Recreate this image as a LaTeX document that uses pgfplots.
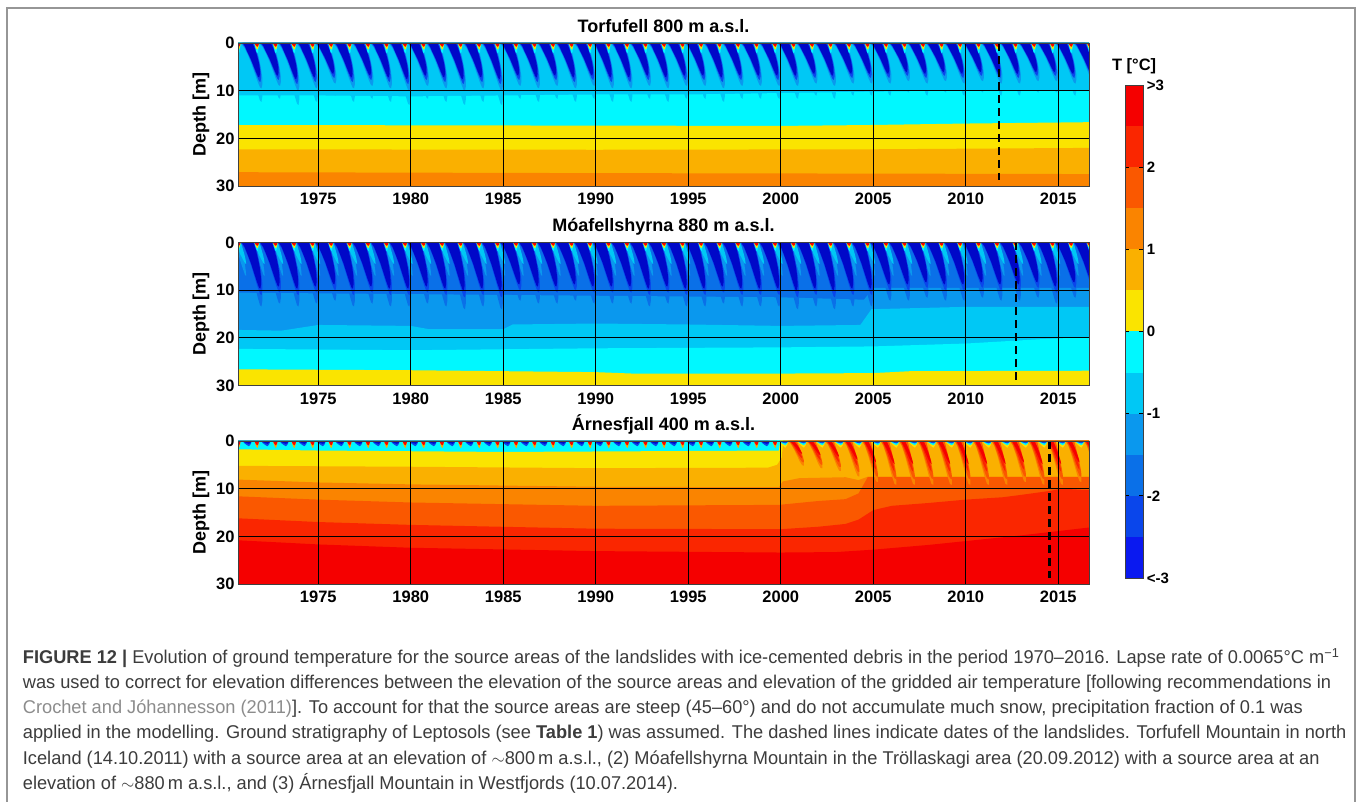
\documentclass[border=0pt]{standalone}
\usepackage{fontspec}
\setmainfont{Liberation Sans}
\usepackage{graphicx}
\usepackage{pgfplots}
\pgfplotsset{compat=1.18}

\definecolor{L1}{RGB}{10,25,240}
\definecolor{L2}{RGB}{10,70,235}
\definecolor{L3}{RGB}{10,112,232}
\definecolor{L4}{RGB}{10,152,238}
\definecolor{L5}{RGB}{0,200,245}
\definecolor{L6}{RGB}{0,248,255}
\definecolor{L7}{RGB}{250,228,0}
\definecolor{L8}{RGB}{250,176,0}
\definecolor{L9}{RGB}{250,132,0}
\definecolor{L10}{RGB}{250,88,0}
\definecolor{L11}{RGB}{250,38,0}
\definecolor{L12}{RGB}{245,0,0}
\definecolor{CORE}{RGB}{0,8,200}
\definecolor{framec}{RGB}{150,150,150}
\definecolor{captxt}{RGB}{60,60,60}
\definecolor{capgray}{RGB}{140,140,140}

% shape templates: (years from 1 Jan of the year / fraction of depth)
\def\shO{-0.20/0,0.55/0,0.68/0.15,0.80/0.35,0.90/0.55,0.97/0.75,0.98/0.9,0.93/1.0,0.85/0.98,0.72/0.85,0.55/0.65,0.38/0.45,0.18/0.25,0.0/0.1,-0.20/0}
\def\shM{-0.14/0,0.49/0,0.62/0.15,0.74/0.35,0.84/0.55,0.90/0.75,0.91/0.9,0.87/1.0,0.80/0.98,0.68/0.85,0.52/0.65,0.36/0.45,0.17/0.25,0.02/0.1,-0.14/0}
\def\shC{-0.08/0,0.43/0,0.56/0.15,0.68/0.35,0.78/0.55,0.84/0.75,0.85/0.9,0.81/1.0,0.75/0.98,0.64/0.85,0.49/0.65,0.34/0.45,0.16/0.25,0.04/0.1,-0.08/0}
\def\shS{0.55/0,0.80/0,0.78/0.4,0.74/0.85,0.70/1.0,0.65/0.8,0.59/0.4,0.55/0}
\def\shT{0.55/0,0.82/0,0.92/0.3,1.02/0.6,1.08/0.85,1.10/1.0,1.04/0.97,0.92/0.78,0.78/0.55,0.65/0.28,0.55/0}
\def\shF{-0.10/0,0.40/0,0.35/0.6,0.25/1.0,0.15/0.8,0.0/0.4,-0.10/0}
\def\shWo{0.40/0,0.85/0,0.98/0.25,1.10/0.5,1.20/0.75,1.25/0.92,1.24/1.0,1.15/0.98,1.02/0.82,0.88/0.6,0.72/0.35,0.55/0.12,0.40/0}
\def\shWi{0.48/0,0.72/0,0.86/0.25,0.98/0.5,1.08/0.75,1.14/0.92,1.15/1.0,1.08/0.95,0.96/0.78,0.84/0.55,0.70/0.3,0.56/0.1,0.48/0}

% year / depth of each seasonal wave
\def\yrsAll{1970/1,1971/1,1972/1,1973/1,1974/1,1975/1,1976/1,1977/1,1978/1,1979/1,1980/1,1981/1,1982/1,1983/1,1984/1,1985/1,1986/1,1987/1,1988/1,1989/1,1990/1,1991/1,1992/1,1993/1,1994/1,1995/1,1996/1,1997/1,1998/1,1999/1,2000/1,2001/1,2002/1,2003/1,2004/1,2005/1,2006/1,2007/1,2008/1,2009/1,2010/1,2011/1,2012/1,2013/1,2014/1,2015/1,2016/1}
\def\yrsEarly{1970/1,1971/1,1972/1,1973/1,1974/1,1975/1,1976/1,1977/1,1978/1,1979/1,1980/1,1981/1,1982/1,1983/1,1984/1,1985/1,1986/1,1987/1,1988/1,1989/1,1990/1,1991/1,1992/1,1993/1,1994/1,1995/1,1996/1,1997/1,1998/1,1999/1}
\def\yrsLate{2000/1,2001/1,2002/1,2003/1,2004/1,2005/1,2006/1,2007/1,2008/1,2009/1,2010/1,2011/1,2012/1,2013/1,2014/1,2015/1,2016/1}
\def\listA{1971/9.5,1972/9,1973/10,1974/9.5,1975/8.5,1976/9.5,1977/9,1978/9.5,1979/10,1980/9,1981/9.5,1982/10,1983/9.5,1984/10,1985/9,1986/9.5,1987/9,1988/9.5,1989/9,1990/9.5,1991/9.5,1992/9,1993/9.5,1994/9,1995/9,1996/9.5,1997/9,1998/9,1999/9,2000/9,2001/8.5,2002/9,2003/8.5,2004/8.5,2005/8.5,2006/8,2007/8.5,2008/8,2009/8.5,2010/8,2011/8.5,2012/8.5,2013/8,2014/8,2015/8.5,2016/8.5}
\def\listB{1971/11,1972/10.5,1973/11,1974/10.5,1975/10,1976/11,1977/10.5,1978/11,1979/11,1980/10.5,1981/11,1982/11.5,1983/11,1984/11.5,1985/10,1986/10.5,1987/10.5,1988/10,1989/10.5,1990/10.5,1991/10.5,1992/11,1993/10.5,1994/11,1995/11,1996/10.5,1997/11,1998/11,1999/11,2000/11.5,2001/11,2002/11.5,2003/11,2004/11,2005/10,2006/10,2007/9.5,2008/10,2009/10,2010/9.5,2011/10,2012/10,2013/9.5,2014/10.5,2015/9.5,2016/10}
\def\listW{2000/4.5,2001/5,2002/5.5,2003/6.5,2004/7.5,2005/8,2006/8,2007/8,2008/8,2009/8,2010/8,2011/8,2012/7.5,2013/8,2014/8,2015/7.5,2016/7.5}

\newcommand\buildpath[3]{%
  \gdef\pathcoords{}%
  \foreach \myyr/\mydd in #2{%
    \foreach \mypx/\mypy in #1{%
      \pgfmathsetmacro\myXv{\mypx+\myyr}%
      \pgfmathsetmacro\myYv{\mypy*\mydd*#3}%
      \xdef\pathcoords{\pathcoords(\myXv,\myYv)}%
    }%
  }%
}
\newcommand\mkpath[4]{\buildpath{#2}{#3}{#4}\global\let#1\pathcoords}

\mkpath\pAb{\shO}{\listA}{1.3}
\mkpath\pAo{\shO}{\listA}{1.0}
\mkpath\pAm{\shM}{\listA}{0.86}
\mkpath\pAc{\shC}{\listA}{0.76}
\mkpath\pAsa{\shS}{\yrsAll}{2.2}
\mkpath\pAsb{\shS}{\yrsAll}{1.4}
\mkpath\pAsc{\shS}{\yrsAll}{0.8}
\mkpath\pBb{\shO}{\listB}{1.22}
\mkpath\pBta{\shT}{\yrsAll}{7}
\mkpath\pBtb{\shT}{\yrsAll}{4.5}
\mkpath\pBo{\shO}{\listB}{1.0}
\mkpath\pBc{\shM}{\listB}{0.88}
\mkpath\pBsa{\shS}{\yrsAll}{1.8}
\mkpath\pBsb{\shS}{\yrsAll}{1.2}
\mkpath\pBsc{\shS}{\yrsAll}{0.7}
\mkpath\pCfa{\shF}{\yrsEarly}{1.1}
\mkpath\pCfb{\shF}{\yrsEarly}{0.6}
\mkpath\pCsa{\shS}{\yrsEarly}{1.5}
\mkpath\pCsb{\shS}{\yrsEarly}{0.9}
\mkpath\pCga{\shF}{\yrsLate}{1.4}
\mkpath\pCgb{\shF}{\yrsLate}{0.9}
\mkpath\pCgc{\shF}{\yrsLate}{0.5}
\mkpath\pCwa{\shWo}{\listW}{1.15}
\mkpath\pCwb{\shWo}{\listW}{1.0}
\mkpath\pCwc{\shWi}{\listW}{0.8}
\mkpath\pCwd{\shWi}{\listW}{0.6}

\newcommand\fillpath[2]{\edef\mytmpcmd{\noexpand\addplot[draw=none,fill=#2] coordinates {#1};}\mytmpcmd}

\pgfplotsset{panel/.style={
  anchor=south west, scale only axis, width=851pt, height=143pt,
  xmin=1970.66, xmax=2016.66, ymin=0, ymax=30, y dir=reverse,
  xtick={1975,1980,...,2015}, ytick={0,10,20,30},
  grid=major, major grid style={black, line width=0.7pt},
  major tick length=0pt,
  axis on top,
  axis line style={black!75, line width=0.8pt},
  ticklabel style={font=\bfseries\fontsize{16.5}{16.5}\selectfont},
  /pgf/number format/assume math mode=true,
  /pgf/number format/1000 sep={},
  xticklabel style={yshift=-3.5pt},
  ylabel={Depth [m]}, ylabel style={font=\bfseries\fontsize{18}{18}\selectfont},
  title style={font=\bfseries\fontsize{18}{18}\selectfont, at={(0.5,1)}, anchor=base, yshift=4.5pt},
}}

\newcommand\capfont{\fontsize{18.5}{22}\selectfont\color{captxt}}
\def\capsx{0.985}

\begin{document}%
\begin{tikzpicture}
\useasboundingbox (0pt,0pt) rectangle (1358pt,802pt);
\fill[white] (0pt,0pt) rectangle (1358pt,802pt);
\draw[framec, line width=1.5pt] (7pt,0pt) -- (7pt,794pt) -- (1355pt,794pt) -- (1355pt,0pt);

% ---------------- Torfufell ----------------
\begin{axis}[panel, at={(238pt,616pt)}, title={Torfufell 800 m a.s.l.}]
\addplot[draw=none,fill=L5] coordinates {(1970,-1)(2017,-1)(2017,31)(1970,31)};
\addplot[draw=none,fill=L6] coordinates {(1970,11.0)(1975,11.0)(1980,11.2)(1985,11.0)(1990,10.8)(1995,10.8)(2000,10.5)(2005,10.2)(2010,10.0)(2017,10.0)(2017,31)(1970,31)};
\fillpath{\pAb}{L5}
\addplot[draw=none,fill=L7] coordinates {(1970,17.2)(1985,17.3)(2000,17.4)(2005,17.2)(2010,16.9)(2017,16.6)(2017,31)(1970,31)};
\addplot[draw=none,fill=L8] coordinates {(1970,22.3)(1990,22.4)(2005,22.3)(2017,22.0)(2017,31)(1970,31)};
\addplot[draw=none,fill=L9] coordinates {(1970,27.1)(1990,27.3)(2005,27.4)(2017,27.5)(2017,31)(1970,31)};
\fillpath{\pAo}{L4}
\fillpath{\pAm}{L2}
\fillpath{\pAc}{CORE}
\fillpath{\pAsa}{L6}
\fillpath{\pAsb}{L7}
\fillpath{\pAsc}{L12}
\addplot[black, line width=2.3pt, dash pattern=on 8pt off 5pt] coordinates {(2011.79,0)(2011.79,28.8)};
\end{axis}

% ---------------- Moafellshyrna ----------------
\begin{axis}[panel, at={(238pt,416.5pt)}, title={Móafellshyrna 880 m a.s.l.}]
\addplot[draw=none,fill=L3] coordinates {(1970,-1)(2017,-1)(2017,31)(1970,31)};
\addplot[draw=none,fill=L4] coordinates {(1970,10.5)(1985,11.0)(2000,11.5)(2004.5,12.0)(2005,9.5)(2017,9.5)(2017,31)(1970,31)};
\fillpath{\pBb}{L3}
\addplot[draw=none,fill=L5] coordinates {(1970,18.3)(1973,18.5)(1975,17.3)(1980,17.5)(1981,18.2)(1985,18.2)(1985.5,17.2)(1990,17.0)(1995,17.2)(2000,17.5)(2004.3,17.3)(2004.9,14.0)(2010,13.5)(2017,13.5)(2017,31)(1970,31)};
\addplot[draw=none,fill=L6] coordinates {(1970,22.3)(1980,22.6)(1990,22.2)(2000,22.0)(2005,21.8)(2010,21.2)(2014,20.3)(2017,19.8)(2017,31)(1970,31)};
\addplot[draw=none,fill=L7] coordinates {(1970,26.6)(1980,26.8)(1985,27.0)(1990,27.2)(1992,27.5)(2000,27.5)(2005,27.4)(2007,27.0)(2017,26.9)(2017,31)(1970,31)};
\fillpath{\pBta}{L4}
\fillpath{\pBtb}{L5}
\fillpath{\pBo}{L2}
\fillpath{\pBc}{CORE}
\fillpath{\pBsa}{L6}
\fillpath{\pBsb}{L7}
\fillpath{\pBsc}{L12}
\addplot[black, line width=2.3pt, dash pattern=on 8pt off 5pt] coordinates {(2012.72,0)(2012.72,28.8)};
\end{axis}

% ---------------- Arnesfjall ----------------
\begin{axis}[panel, at={(238pt,218pt)}, title={Árnesfjall 400 m a.s.l.}]
\addplot[draw=none,fill=L6] coordinates {(1970,-1)(2017,-1)(2017,31)(1970,31)};
\addplot[draw=none,fill=L7] coordinates {(1970,1.7)(1975,2.0)(1985,2.3)(1995,2.1)(1999.9,2.0)(2000.0,-1)(2017,-1)(2017,31)(1970,31)};
\addplot[draw=none,fill=L8] coordinates {(1970,5.2)(1980,5.4)(1990,5.7)(1999.3,5.6)(1999.8,5.0)(2000.05,3.5)(2000.15,-1)(2017,-1)(2017,31)(1970,31)};
\addplot[draw=none,fill=L9] coordinates {(1970,8.0)(1975,8.7)(1980,9.1)(1990,9.6)(1999.9,9.7)(2000.1,8.5)(2001,7.8)(2003.5,7.6)(2004.2,8.2)(2004.7,7.5)(2017,7.5)(2017,31)(1970,31)};
\addplot[draw=none,fill=L10] coordinates {(1970,11.5)(1975,12.3)(1980,12.9)(1990,13.6)(1999.9,13.4)(2002,12.6)(2003.5,12.2)(2004.2,11.0)(2004.7,7.6)(2017,7.6)(2017,31)(1970,31)};
\addplot[draw=none,fill=L11] coordinates {(1970,16.1)(1975,17.0)(1980,17.6)(1990,18.4)(2000,18.5)(2002,18.0)(2003.5,17.4)(2004.2,16.5)(2005,14.5)(2006,13.6)(2008,13.0)(2010,12.3)(2012,11.8)(2013,11.3)(2014.5,10.5)(2015.2,10.0)(2017,10.4)(2017,31)(1970,31)};
\addplot[draw=none,fill=L12] coordinates {(1970,20.7)(1975,21.7)(1980,22.4)(1990,23.1)(2000,23.4)(2003,23.3)(2005,22.8)(2008,21.8)(2010,21.0)(2013,19.8)(2017,18.0)(2017,31)(1970,31)};
\fillpath{\pCfa}{L2}
\fillpath{\pCfb}{CORE}
\fillpath{\pCsa}{L8}
\fillpath{\pCsb}{L12}
\fillpath{\pCga}{L7}
\fillpath{\pCgb}{L6}
\fillpath{\pCgc}{L2}
\fillpath{\pCwa}{L9}
\fillpath{\pCwb}{L10}
\fillpath{\pCwc}{L11}
\fillpath{\pCwd}{L12}
\addplot[black, line width=2.3pt, dash pattern=on 8pt off 5pt] coordinates {(2014.52,0)(2014.52,28.8)};
\end{axis}

% ---------------- colour bar ----------------
\begin{axis}[anchor=south west, at={(1125pt,224pt)}, scale only axis, width=18.3pt, height=493pt,
  xmin=0, xmax=1, ymin=-3, ymax=3, xtick=\empty,
  ytick={-3,-2,-1,0,1,2,3}, yticklabels={{<-3},{-2},{-1},{0},{1},{2},{>3}},
  yticklabel pos=right, tick align=inside, major tick length=4pt,
  ytick style={black, line width=0.8pt},
  axis line style={black!75, line width=0.7pt}, axis on top,
  yticklabel style={font=\bfseries\fontsize{15}{15}\selectfont},
  title={T [°C]}, title style={font=\bfseries\fontsize{16.5}{16.5}\selectfont, at={(0.5,1)}, anchor=base, yshift=8pt}]
\addplot[draw=none,fill=L1] coordinates {(0,-3)(1,-3)(1,-2.5)(0,-2.5)};
\addplot[draw=none,fill=L2] coordinates {(0,-2.5)(1,-2.5)(1,-2)(0,-2)};
\addplot[draw=none,fill=L3] coordinates {(0,-2)(1,-2)(1,-1.5)(0,-1.5)};
\addplot[draw=none,fill=L4] coordinates {(0,-1.5)(1,-1.5)(1,-1)(0,-1)};
\addplot[draw=none,fill=L5] coordinates {(0,-1)(1,-1)(1,-0.5)(0,-0.5)};
\addplot[draw=none,fill=L6] coordinates {(0,-0.5)(1,-0.5)(1,0)(0,0)};
\addplot[draw=none,fill=L7] coordinates {(0,0)(1,0)(1,0.5)(0,0.5)};
\addplot[draw=none,fill=L8] coordinates {(0,0.5)(1,0.5)(1,1)(0,1)};
\addplot[draw=none,fill=L9] coordinates {(0,1)(1,1)(1,1.5)(0,1.5)};
\addplot[draw=none,fill=L10] coordinates {(0,1.5)(1,1.5)(1,2)(0,2)};
\addplot[draw=none,fill=L11] coordinates {(0,2)(1,2)(1,2.5)(0,2.5)};
\addplot[draw=none,fill=L12] coordinates {(0,2.5)(1,2.5)(1,3)(0,3)};
\end{axis}

% ---------------- caption ----------------
\node[anchor=base west, inner sep=0] at (22.7pt,138.3pt) {\scalebox{\capsx}[1]{\capfont{\bfseries FIGURE 12 |} Evolution of ground temperature for the source areas of the landslides with ice-cemented debris in the period 1970–2016. Lapse rate of 0.0065°C m\textsuperscript{−1}}};
\node[anchor=base west, inner sep=0] at (22.7pt,113.2pt) {\scalebox{\capsx}[1]{\capfont was used to correct for elevation differences between the elevation of the source areas and elevation of the gridded air temperature [following recommendations in}};
\node[anchor=base west, inner sep=0] at (22.7pt,88.1pt) {\scalebox{\capsx}[1]{\capfont {\color{capgray}Crochet and Jóhannesson (2011)}]. To account for that the source areas are steep (45–60°) and do not accumulate much snow, precipitation fraction of 0.1 was}};
\node[anchor=base west, inner sep=0] at (22.7pt,63pt) {\scalebox{\capsx}[1]{\capfont applied in the modelling. Ground stratigraphy of Leptosols (see {\bfseries Table 1}) was assumed. The dashed lines indicate dates of the landslides. Torfufell Mountain in north}};
\node[anchor=base west, inner sep=0] at (22.7pt,37.9pt) {\scalebox{\capsx}[1]{\capfont Iceland (14.10.2011) with a source area at an elevation of $\sim$800\,m a.s.l., (2) Móafellshyrna Mountain in the Tröllaskagi area (20.09.2012) with a source area at an}};
\node[anchor=base west, inner sep=0] at (22.7pt,12.8pt) {\scalebox{\capsx}[1]{\capfont elevation of $\sim$880\,m a.s.l., and (3) Árnesfjall Mountain in Westfjords (10.07.2014).}};
\end{tikzpicture}%
\end{document}
